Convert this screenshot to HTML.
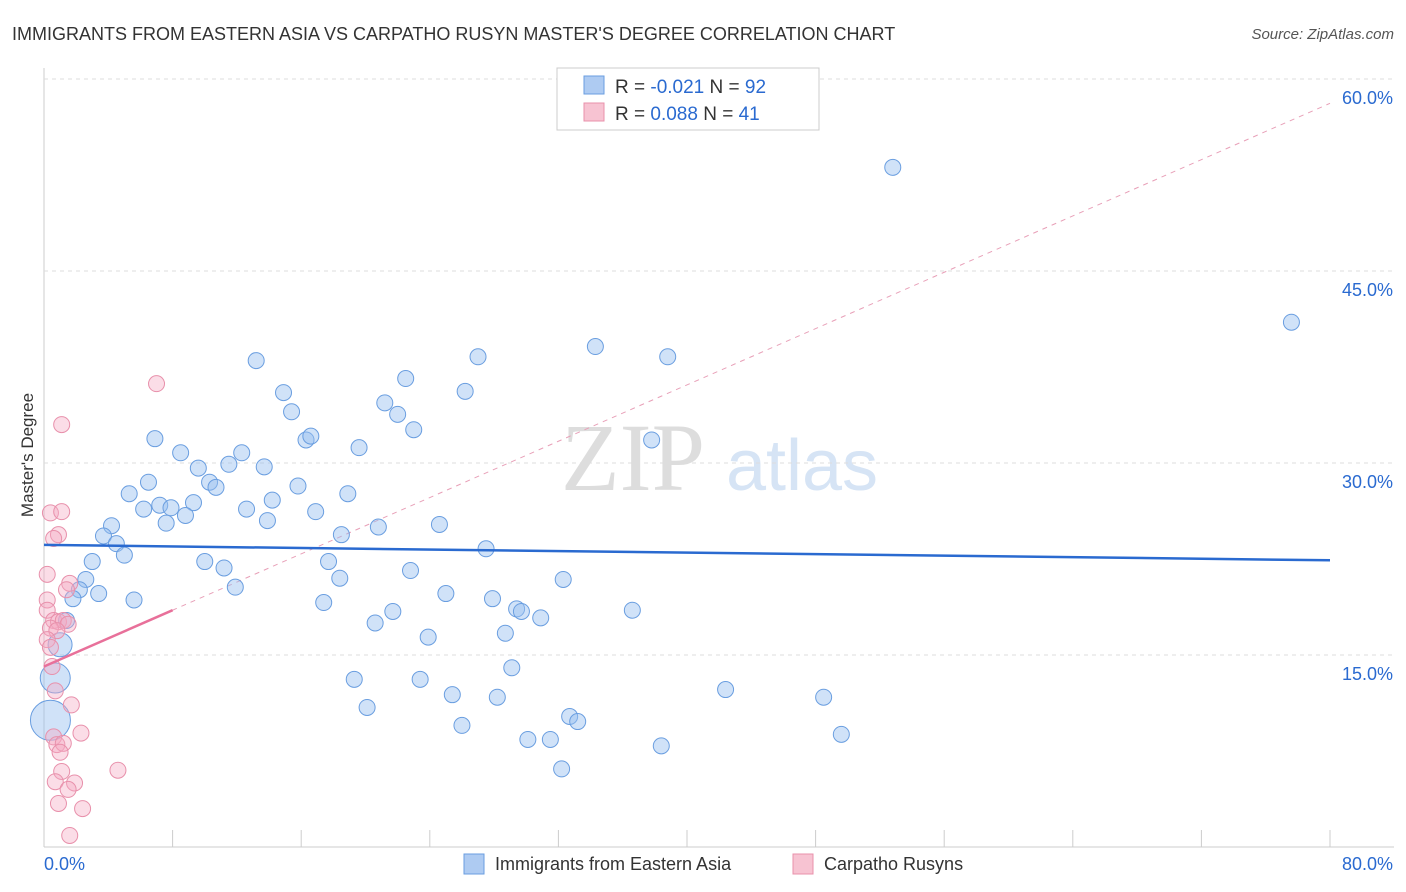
<!DOCTYPE html>
<html><head><meta charset="utf-8"><style>
body{margin:0;background:#fff;font-family:"Liberation Sans",sans-serif;}
#wrap{position:relative;width:1406px;height:892px;overflow:hidden;}
</style></head><body>
<div id="wrap">
<svg id="svg" width="1406" height="892" xmlns="http://www.w3.org/2000/svg">
<text x="12" y="40" font-size="18" fill="#333">IMMIGRANTS FROM EASTERN ASIA VS CARPATHO RUSYN MASTER'S DEGREE CORRELATION CHART</text>
<text x="1394" y="39" font-size="15" fill="#555" font-style="italic" text-anchor="end">Source: ZipAtlas.com</text>
<text x="33" y="455" font-size="17" fill="#333" text-anchor="middle" transform="rotate(-90 33 455)">Master's Degree</text>
<text x="633" y="490" font-size="96" fill="#ddd" text-anchor="middle" font-family="Liberation Serif,serif">ZIP</text>
<text x="802" y="490" font-size="72" fill="#d6e4f5" text-anchor="middle">atlas</text>
<g id="grid"></g><g id="marks"></g>
<g>
<rect x="557" y="68" width="262" height="62" fill="#fff" stroke="#ccc"/>
<rect x="584" y="76" width="20" height="18" fill="#aecbf2" stroke="#6a9ee0"/>
<rect x="584" y="103" width="20" height="18" fill="#f7c3d2" stroke="#e890ab"/>
<text x="615" y="93" font-size="19" fill="#333">R = <tspan fill="#2a6ad0">-0.021</tspan>   N = <tspan fill="#2a6ad0">92</tspan></text>
<text x="615" y="120" font-size="19" fill="#333">R =  <tspan fill="#2a6ad0">0.088</tspan>   N =  <tspan fill="#2a6ad0">41</tspan></text>
</g>
<g>
<rect x="464" y="854" width="20" height="20" fill="#aecbf2" stroke="#6a9ee0"/>
<text x="495" y="870" font-size="18" fill="#333">Immigrants from Eastern Asia</text>
<rect x="793" y="854" width="20" height="20" fill="#f7c3d2" stroke="#e890ab"/>
<text x="824" y="870" font-size="18" fill="#333">Carpatho Rusyns</text>
</g>
</svg></div>
<script>
const yTicks=[15,30,45,60];
const xTickLabels=["0.0%","80.0%"];
const blueX=[52.8,77.6,13.2,14.9,15.4,16.3,16.6,19.6,21.2,22.0,22.5,23.0,26.2,27.0,34.3,38.8,37.8,6.9,8.5,9.6,11.5,12.3,13.7,6.5,10.3,10.7,15.8,5.3,14.2,18.9,9.3,7.2,7.9,6.2,8.8,12.6,16.9,7.6,13.9,4.2,20.8,24.6,18.5,3.7,4.5,5.0,27.5,3.0,10.0,11.2,17.7,22.8,2.6,18.4,32.3,11.9,2.2,3.4,1.8,5.6,25.0,27.9,17.4,29.4,29.7,21.7,36.6,30.9,20.6,1.4,23.9,28.7,29.1,19.3,23.4,25.4,28.2,42.4,48.5,20.1,32.7,33.2,26.0,30.1,31.5,38.4,49.6,32.2];
const blueY=[53.1,41.0,38.0,35.5,34.0,31.8,32.1,31.2,34.7,33.8,36.6,32.6,35.6,38.3,39.1,38.3,31.8,31.9,30.8,29.6,29.9,30.8,29.7,28.5,28.5,28.1,28.2,27.6,27.1,27.6,26.9,26.7,26.5,26.4,25.9,26.4,26.2,25.3,25.5,25.1,25.0,25.2,24.4,24.3,23.7,22.8,23.3,22.3,22.3,21.8,22.3,21.6,20.9,21.0,20.9,20.3,20.1,19.8,19.4,19.3,19.8,19.4,19.1,18.6,18.4,18.4,18.5,17.9,17.5,17.7,16.4,16.7,14.0,13.1,13.1,11.9,11.7,12.3,11.7,10.9,10.2,9.8,9.5,8.4,8.4,7.9,8.8,6.1];
const bigBlueX=[0.4,0.7,1.0];
const bigBlueY=[9.9,13.2,15.8];
const bigBlueR=[20,15,12];
const pinkX=[7.0,1.1,0.4,1.1,0.9,0.6,0.2,1.6,1.4,0.2,0.2,0.6,0.9,1.2,1.5,0.4,0.8,0.2,0.4,0.5,0.7,1.7,2.3,0.6,0.8,1.2,1.0,4.6,1.1,1.9,0.7,1.5,0.9,2.4,1.6];
const pinkY=[36.2,33.0,26.1,26.2,24.4,24.1,21.3,20.6,20.1,19.3,18.5,17.7,17.6,17.7,17.4,17.1,16.9,16.2,15.6,14.1,12.2,11.1,8.9,8.6,8.0,8.1,7.4,6.0,5.9,5.0,5.1,4.5,3.4,3.0,0.9];
const blueTrend=[23.6,22.4];
const pinkTrend=[14.1,18.5];
const NS="http://www.w3.org/2000/svg";
const X=v=>44+v/80*1286, Y=v=>847-v/15*192;
function mk(t,a,p){const e=document.createElementNS(NS,t);for(const k in a)e.setAttribute(k,a[k]);p.appendChild(e);return e;}
const grid=document.getElementById('grid'),marks=document.getElementById('marks');
mk('line',{x1:44,y1:68,x2:44,y2:847,stroke:'#ccc'},grid);
mk('line',{x1:44,y1:847,x2:1394,y2:847,stroke:'#ccc'},grid);
for(let i=0;i<=10;i++){const t=mk('line',{x1:X(i*8),y1:830,x2:X(i*8),y2:847,stroke:'#ccc'},grid);

}
yTicks.forEach(v=>{const l=mk('line',{x1:44,y1:Y(v),x2:1394,y2:Y(v),stroke:'#ddd','stroke-dasharray':'4,4'},grid);


const t=mk('text',{x:1393,y:Y(v)+25,'font-size':18,fill:'#2a6ad0','text-anchor':'end'},grid);t.textContent=v.toFixed(1)+'%';

});
const x0=mk('text',{x:44,y:870,'font-size':18,fill:'#2a6ad0'},grid);x0.textContent=xTickLabels[0];


const x1=mk('text',{x:1393,y:870,'font-size':18,fill:'#2a6ad0','text-anchor':'end'},grid);x1.textContent=xTickLabels[1];


const pd=mk('line',{x1:X(0),y1:Y(pinkTrend[0]),x2:X(80),y2:Y(pinkTrend[0]+(pinkTrend[1]-pinkTrend[0])/8*80),stroke:'#e8a0b8','stroke-dasharray':'5,5'},marks);


blueX.forEach((v,i)=>{const c=mk('circle',{cx:X(v),cy:Y(blueY[i]),r:8,fill:'rgba(150,190,240,0.45)',stroke:'#6a9ee0','stroke-width':1},marks);

});
bigBlueX.forEach((v,i)=>{const c=mk('circle',{cx:X(v),cy:Y(bigBlueY[i]),r:bigBlueR[i],fill:'rgba(150,190,240,0.45)',stroke:'#6a9ee0','stroke-width':1},marks);

});
pinkX.forEach((v,i)=>{const c=mk('circle',{cx:X(v),cy:Y(pinkY[i]),r:8,fill:'rgba(245,170,195,0.4)',stroke:'#e890ab','stroke-width':1},marks);

});
const bt=mk('line',{x1:X(0),y1:Y(blueTrend[0]),x2:X(80),y2:Y(blueTrend[1]),stroke:'#2a6ad0','stroke-width':2.5},marks);


const pt=mk('line',{x1:X(0),y1:Y(pinkTrend[0]),x2:X(8),y2:Y(pinkTrend[1]),stroke:'#e8709a','stroke-width':2.5},marks);


</script>
</body></html>
